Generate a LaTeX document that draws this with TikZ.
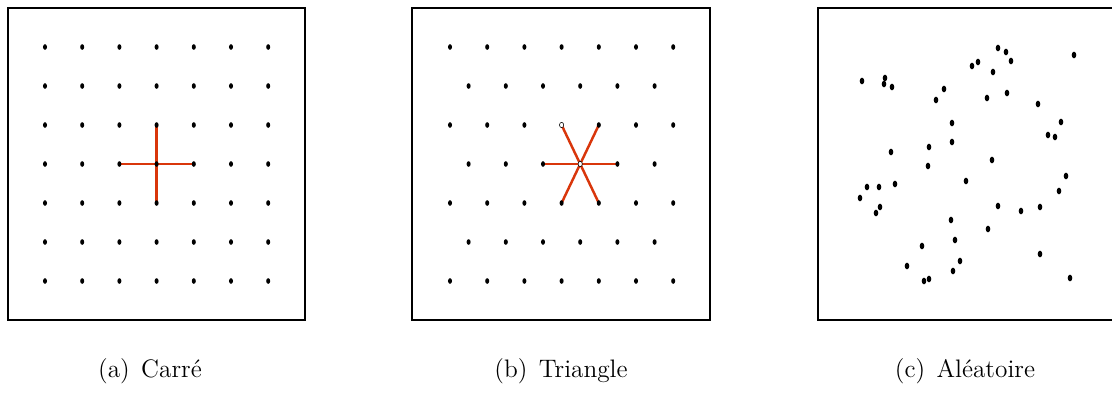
\documentclass[tikz,border=0pt]{standalone}
\usepackage{tikz}
\usetikzlibrary{backgrounds, shapes.geometric}
\definecolor{linkR}{HTML}{D9360B}

\begin{document}
\begin{tikzpicture}[x=0.02cm, y=-0.02cm,
    pt/.style={ellipse, fill=black, inner sep=0pt, minimum width=2.3pt, minimum height=3.2pt},
    bigpt/.style={pt, minimum width=2.6pt, minimum height=3.8pt},
    hole/.style={ellipse, draw=black, fill=white, line width=0.3pt, inner sep=0pt, minimum width=2.4pt, minimum height=3pt},
    frame/.style={line width=0.9pt},
    link/.style={linkR, line width=1.4pt},
    subcap/.style={font=\fontsize{14.4}{17}\selectfont}]
  \def\dx{37.2}  % column spacing
  \def\dy{39}    % row spacing
  \useasboundingbox (0,0) rectangle (1112,410);
  % frames
  \draw[frame] (8,8) rectangle (305,320);
  \draw[frame] (412,8) rectangle (710,320);
  \draw[frame] (818,8) rectangle (1116,320);
  % (a) square grid
  \foreach \i in {0,...,6}{
    \foreach \j in {0,...,6}{
      \node[pt] (sq-\i-\j) at (45+\j*\dx, 47+\i*\dy) {};
    }
  }
  % (b) triangular grid, odd rows shifted by half a step
  \foreach \i in {0,2,4,6}{
    \foreach \j in {0,...,6}{
      \node[pt] (tr-\i-\j) at (450+\j*\dx, 47+\i*\dy) {};
    }
  }
  \foreach \i in {1,3,5}{
    \foreach \j in {0,...,5}{
      \node[pt] (tr-\i-\j) at (450+\dx/2+\j*\dx, 47+\i*\dy) {};
    }
  }
  \node[hole] at (tr-3-3) {};
  \node[hole] at (tr-2-3) {};
  % neighbour links
  \begin{scope}[on background layer]
    \foreach \n in {2-3, 4-3, 3-2, 3-4}
      \draw[link] (sq-3-3.center) -- (sq-\n.center);
    \foreach \n in {3-2, 3-4, 2-3, 2-4, 4-3, 4-4}
      \draw[link] (tr-3-3.center) -- (tr-\n.center);
  \end{scope}
  % (c) random points
  \foreach \px/\py [count=\k] in {%
     862/81, 885/78, 884/84, 892/87, 944/89, 936/100, 972/66, 978/62,
     998/48, 1006/52, 1011/61, 993/72, 987/98, 1007/93, 1038/104, 1074/55,
     1061/122, 1048/135, 1055/137, 952/123, 952/142, 929/147, 891/152, 992/160,
     928/166, 1066/176, 1059/191, 966/181, 895/184, 867/187, 879/187, 860/198,
     880/207, 876/213, 998/206, 1021/211, 1040/207, 951/220, 988/229, 955/240,
     922/246, 960/261, 1040/254, 907/266, 953/271, 924/281, 929/279, 1070/278}{
    \node[bigpt] (rd-\k) at (\px,\py) {};
  }
  % captions
  \node[subcap] (capA) at (150,371) {(a)\hspace{0.45em}Carré};
  \node[subcap] (capB) at (561,371) {(b)\hspace{0.45em}Triangle};
  \node[subcap] (capC) at (965,371) {(c)\hspace{0.45em}Aléatoire};
\end{tikzpicture}
\end{document}
